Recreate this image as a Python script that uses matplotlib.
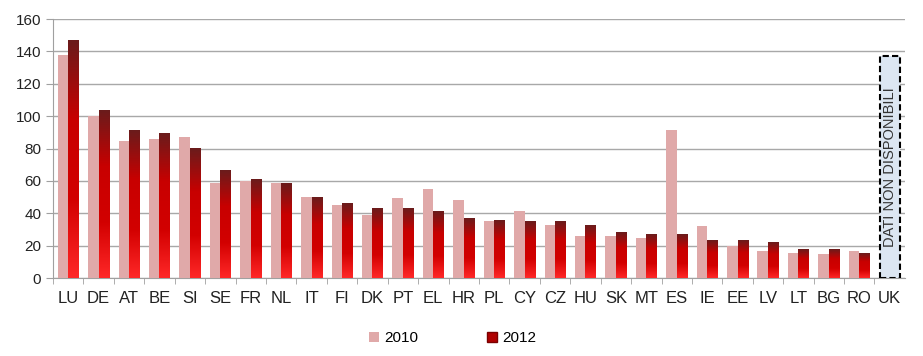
import numpy as np
import matplotlib.pyplot as plt
from matplotlib.colors import LinearSegmentedColormap
from matplotlib.patches import Patch, Rectangle

plt.rcParams['font.family'] = ['Liberation Sans', 'DejaVu Sans']

countries = ['LU', 'DE', 'AT', 'BE', 'SI', 'SE', 'FR', 'NL', 'IT', 'FI', 'DK', 'PT', 'EL', 'HR',
             'PL', 'CY', 'CZ', 'HU', 'SK', 'MT', 'ES', 'IE', 'EE', 'LV', 'LT', 'BG', 'RO', 'UK']
v2010 = [138, 100, 84.5, 86, 87, 59, 60, 59, 50, 45, 39, 49.5, 55, 48,
         35.5, 41.5, 32.5, 26, 26, 24.5, 91.5, 32, 20, 17, 15.5, 15, 17, np.nan]
v2012 = [147, 103.5, 91, 89.5, 80, 66.5, 61, 58.5, 50, 46, 43, 43, 41, 37,
         35.5, 35, 35, 32.5, 28, 27, 27, 23, 23, 22, 17.5, 17.5, 15, np.nan]
missing_label = 'DATI NON DISPONIBILI'
missing_height = 137

pink = '#E0A9A9'
grad = LinearSegmentedColormap.from_list('red_grad', ['#FF2828', '#D20000', '#C80000', '#6A1C1C'])

fig = plt.figure(figsize=(9.23, 3.56), dpi=100)
ax = fig.add_axes([0.0574, 0.219, 0.923, 0.7275])

x = np.arange(len(countries))
w = 0.345
ax.bar(x - w / 2, v2010, width=w, color=pink, zorder=3)
bars = ax.bar(x + w / 2, v2012, width=w, color='none', zorder=3)

# vertical gradient on the 2012 bars (dark top, bright red bottom)
g = np.linspace(0, 1, 256).reshape(-1, 1)
for b in bars:
    h = b.get_height()
    if np.isnan(h):
        continue
    ax.imshow(g, cmap=grad, origin='lower', aspect='auto', zorder=3,
              extent=(b.get_x(), b.get_x() + b.get_width(), 0, h))

# box for missing data
i_uk = countries.index('UK')
ax.add_patch(Rectangle((i_uk - 0.33, 0), 0.66, missing_height, facecolor='#DCE6F2',
                       edgecolor='black', linestyle=(0, (3, 1.5)), linewidth=1.5, zorder=4))
ax.text(i_uk, missing_height / 2, missing_label, rotation=90, ha='center', va='center',
        fontsize=10.5, color='#333333', zorder=5)

ax.set_xlim(-0.5, len(countries) - 0.5)
ax.set_ylim(0, 160)
ax.set_yticks(np.arange(0, 161, 20))
ax.set_xticks(x)
ax.set_xticklabels(countries, fontsize=12, color='#222222')
ax.set_xticks(np.arange(-0.5, len(countries) - 0.5, 1), minor=True)
ax.tick_params(axis='x', which='major', length=0, pad=9)
ax.tick_params(axis='x', which='minor', length=4, color='#A0A0A0', direction='out')
ax.tick_params(axis='y', labelsize=11, length=5, color='#A0A0A0', labelcolor='#222222')
ax.grid(axis='y', color='#A8A8A8', linewidth=1, zorder=0)
for s in ['top', 'right']:
    ax.spines[s].set_visible(False)
for s in ['left', 'bottom']:
    ax.spines[s].set_color('#A0A0A0')

handles = [Patch(facecolor=pink), Patch(facecolor='#B00000', edgecolor='#7A0000')]
fig.legend(handles, ['2010', '2012'], loc='center', bbox_to_anchor=(0.49, 0.05), ncol=2,
           frameon=False, fontsize=11, handlelength=0.7, handleheight=0.7,
           handletextpad=0.3, columnspacing=4.5)

fig.savefig('out.png', dpi=100)
